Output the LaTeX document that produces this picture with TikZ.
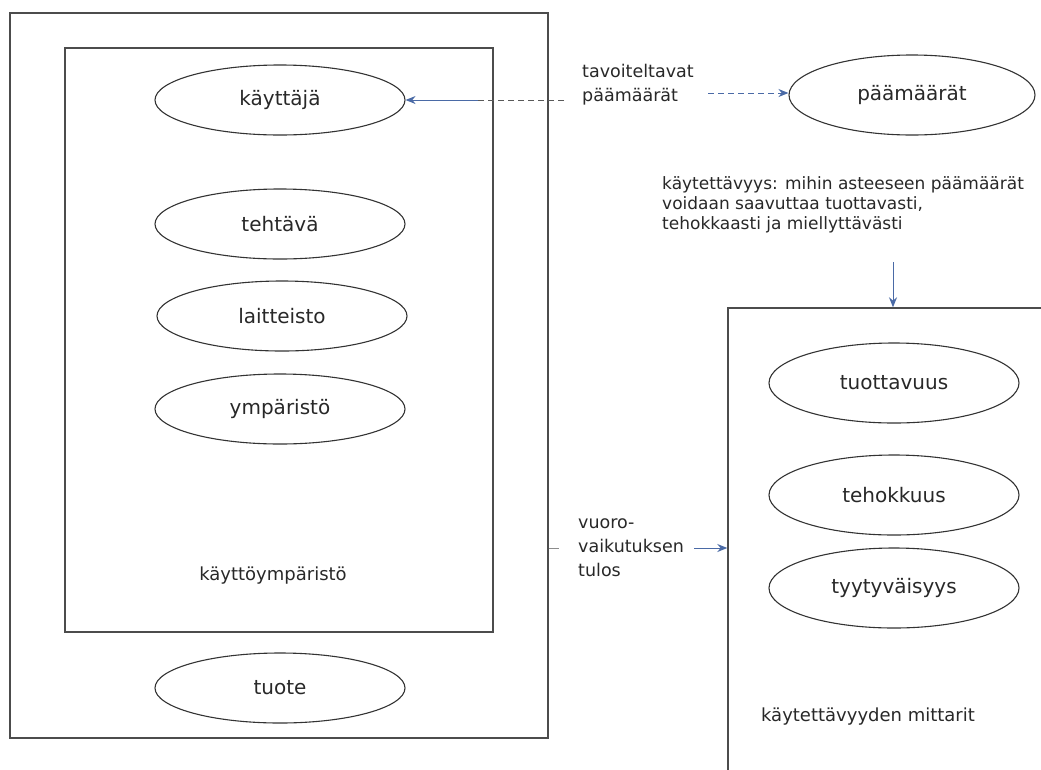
\documentclass[tikz,border=0pt]{standalone}
\usepackage{fontspec}
\setmainfont{DejaVu Sans}
\usetikzlibrary{shapes.geometric, arrows.meta, positioning}
\definecolor{arrowblue}{RGB}{74,106,166}
\definecolor{inkgray}{RGB}{40,40,40}

\begin{document}
\begin{tikzpicture}[x=1pt, y=-1pt,
    every node/.style={text=inkgray, font=\fontsize{18}{22}\selectfont},
    part/.style={ellipse, draw=black!80, line width=1.1pt, minimum width=250pt, minimum height=70pt, inner sep=0pt, font=\fontsize{20}{24}\selectfont},
    frame/.style={draw=black!70, line width=1.4pt, inner sep=0pt},
    note/.style={align=left, inner sep=0pt, font=\fontsize{17.5}{24}\selectfont},
    link/.style={draw=arrowblue, line width=1pt, -{Stealth[length=10pt, width=8pt]}},
    dashlink/.style={draw=black!65, line width=1pt, dash pattern=on 6pt off 4pt}]
    \useasboundingbox (0,0) rectangle (1041,769);
    \clip (0,0) rectangle (1041,769);

    % frames
    \node[frame, minimum width=538pt, minimum height=725pt] (prod) at (279,375.5) {};
    \node[frame, minimum width=428pt, minimum height=584pt] (ctx) at (279,340) {};
    \node[frame, minimum width=380pt, minimum height=500pt] (meas) at (918,558) {};

    % context of use
    \node[part] (user) at (280,100) {käyttäjä};
    \node[part] (task) at (280,224) {tehtävä};
    \node[part] (equip) at (282,316) {laitteisto};
    \node[part] (envir) at (280,409) {ympäristö};
    \node (ctxlabel) at (273,576) {käyttöympäristö};
    \node[part] (product) at (280,688) {tuote};

    % goals
    \node[part, minimum width=246pt, minimum height=80pt] (aims) at (912,95) {päämäärät};
    \node[note, anchor=west] (goal) at (582,85) {tavoiteltavat\\päämäärät};
    \coordinate (gmid) at (478,100);
    \coordinate (gright) at (708,93);
    \draw[dashlink] ([xshift=-18pt]goal.west |- gmid) -- (gmid);
    \draw[link] (gmid) -- (user.east |- gmid);
    \draw[dashlink, -{Stealth[length=10pt, width=8pt]}, arrowblue] (gright) -- (gright -| aims.west);

    % usability
    \node[align=left, inner sep=0pt, anchor=north west, font=\fontsize{17}{20}\selectfont] (usab) at (662,176)
        {käytettävyys: mihin asteeseen päämäärät\\voidaan saavuttaa tuottavasti,\\tehokkaasti ja miellyttävästi};
    \coordinate (usabfoot) at (893,262);
    \draw[link] (usabfoot) -- (usabfoot |- meas.north);

    % measures
    \node[part, minimum height=80pt] (effect) at (894,383) {tuottavuus};
    \node[part, minimum height=80pt] (effic) at (894,495) {tehokkuus};
    \node[part, minimum height=80pt] (satis) at (894,588) {tyytyväisyys};
    \node (measlabel) at (868,717) {käytettävyyden mittarit};

    % interaction
    \node[note, anchor=west] (inter) at (578,548) {vuoro-\\vaikutuksen\\tulos};
    \draw[draw=black!45, line width=1pt] (prod.east |- inter) -- ++(10,0);
    \draw[link] ([xshift=10pt]inter.east) -- (meas.west |- inter);
\end{tikzpicture}
\end{document}
